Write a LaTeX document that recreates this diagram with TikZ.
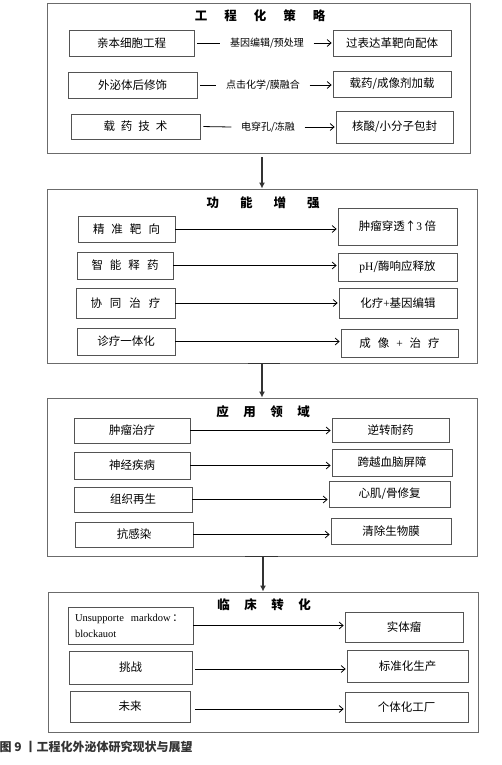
\documentclass[tikz,border=0pt]{standalone}
\usepackage{fontspec}
\setmainfont{Liberation Serif}
\newfontfamily\cjk{Noto Sans CJK SC}
\usetikzlibrary{arrows.meta,calc}
\definecolor{bordc}{gray}{0.33}
\definecolor{secc}{gray}{0.42}
\definecolor{vc}{gray}{0.2}
\newcommand\latn[1]{{\rmfamily #1}}
\newcommand\gp[1]{\hspace{#1pt}}
\newcommand\bx[7][box]{\node[#1, minimum width={#5-#3}, minimum height={#6-#4}] (#2) at ({(#3+#5)/2},{(#4+#6)/2}) {#7};}
\tikzset{
  box/.style={draw=bordc, line width=0.7pt, inner sep=0pt, font=\cjk\fontsize{11.5}{13}\selectfont, text=black},
  secbox/.style={draw=secc, line width=0.9pt, inner sep=0pt},
  ttl/.style={font=\cjk\bfseries\fontsize{12.5}{14}\selectfont, inner sep=0pt},
  lab/.style={font=\cjk\fontsize{10}{12}\selectfont, inner xsep=9.5pt, inner ysep=0pt},
  ln/.style={line width=0.8pt, black, shorten <=3pt},
  arr/.style={line width=0.8pt, black, -{Straight Barb[length=4pt,width=7pt]}, shorten >=1pt},
  varr/.style={line width=2.3pt, vc, -{Latex[length=6pt,width=6pt]}},
  seg/.style={line width=1.3pt, vc},
}
\begin{document}
\begin{tikzpicture}[x=1pt,y=-1pt]
\useasboundingbox (0,0) rectangle (501,765);
% sections
\bx[secbox]{s1}{47}{3}{470}{153}{}
\bx[secbox]{s2}{47}{189}{477}{363}{}
\bx[secbox]{s3}{47}{398}{477}{556}{}
\bx[secbox]{s4}{48}{592}{478}{732}{}
% titles
\node[ttl] (t1) at (260,16) {工\gp{17}程\gp{17}化\gp{17}策\gp{17}略};
\node[ttl] (t2) at (263,203) {功\gp{21}能\gp{21}增\gp{21}强};
\node[ttl] (t3) at (263,412) {应\gp{14.5}用\gp{14.5}领\gp{14.5}域};
\node[ttl] (t4) at (264,605) {临\gp{14.5}床\gp{14.5}转\gp{14.5}化};
% section 1
\bx{L1}{69}{30}{194}{56}{亲本细胞工程}
\bx{R1}{333}{30}{451}{56}{过表达革靶向配体}
\bx{L2}{68}{72}{197}{98}{外泌体后修饰}
\bx{R2}{333}{71}{451}{97}{载药/成像剂加载}
\bx{L3}{71}{114}{200}{139}{载\gp{6}药\gp{6}技\gp{6}术}
\bx{R3}{336}{111}{453}{143}{核酸/小分子包封}
\node[lab] (lb1) at (267,43) {基因编辑/预处理};
\node[lab] (lb2) at (263,85) {点击化学/膜融合};
\node[lab] (lb3) at (268,127) {电穿孔/冻融};
\draw[ln] (L1.east) -- (lb1.west);
\draw[arr] (lb1.east) -- (R1.west);
\draw[ln] (L2.east) -- (lb2.west);
\draw[arr] (lb2.east) -- (lb2.east -| R2.west);
\draw[ln] (L3.east) -- (lb3.west);
\draw[arr] (lb3.east) -- (lb3.east -| R3.west);
% section 2
\bx{A1}{78}{216}{175}{242}{精\gp{7}准\gp{7}靶\gp{7}向}
\bx{B1}{338}{208}{457}{245}{肿瘤穿透↑\latn{3} 倍}
\bx{A2}{77}{252}{173}{279}{智\gp{7}能\gp{7}释\gp{7}药}
\bx{B2}{338}{253}{457}{281}{\latn{pH}/酶响应释放}
\bx{A3}{76}{288}{175}{318}{协\gp{8}同\gp{8}治\gp{8}疗}
\bx{B3}{339}{288}{457}{318}{化疗\latn{+}基因编辑}
\bx{A4}{77}{328}{175}{355}{诊疗一体化}
\bx{B4}{341}{329}{458}{357}{成\gp{7}像\gp{7}\latn{+}\gp{7}治\gp{7}疗}
\foreach \a/\b in {A1/B1,A2/B2,A3/B3,A4/B4}
  \draw[arr] (\a.east) -- (\a.east -| \b.west);
% section 3
\bx{C1}{74}{418}{190}{443}{肿瘤治疗}
\bx{D1}{332}{418}{449}{442}{逆转耐药}
\bx{C2}{74}{452}{190}{479}{神经疾病}
\bx{D2}{332}{449}{452}{476}{跨越血脑屏障}
\bx{C3}{74}{487}{192}{512}{组织再生}
\bx{D3}{329}{481}{450}{507}{心肌/骨修复}
\bx{C4}{75}{522}{193}{547}{抗感染}
\bx{D4}{331}{518}{451}{544}{清除生物膜}
\foreach \a/\b in {C1/D1,C2/D2,C3/D3,C4/D4}
  \draw[arr] (\a.east) -- (\a.east -| \b.west);
% section 4
\bx[box, align=left, text width=111pt, font=\rmfamily\fontsize{10.5}{16}\selectfont]{E1}{68}{607}{193}{644}{\mbox{Unsupporte\ \ markdow\,{\cjk ：}}\\blockauot}
\bx{F1}{345}{612}{463}{642}{实体瘤}
\bx{E2}{69}{651}{192}{684}{挑战}
\bx{F2}{347}{650}{468}{682}{标准化生产}
\bx{E3}{70}{691}{190}{722}{未来}
\bx{F3}{345}{692}{468}{722}{个体化工厂}
\draw[arr] (E1.east) -- (E1.east -| F1.west);
\draw[arr, shorten <=3pt] (E2.east) ++(0,1.5) -- (F2.west |- 0,669);
\draw[arr, shorten <=5pt] (E3.east) ++(0,2.5) -- (F3.west |- 0,709);
% vertical arrows
\draw[varr, shorten <=4pt] (s2.north |- s1.south) -- (s2.north);
\draw[varr] (s3.north |- s2.south) -- (s3.north);
\draw[varr] (s4.north |- s3.south) -- (s4.north);
\draw[seg] ($(s2.south)+(-14,0)$) -- ($(s2.south)+(18,0)$);
\draw[seg] ($(s3.south)+(-17,0)$) -- ($(s3.south)+(16,0)$);
% caption
\node[font=\cjk\bfseries\fontsize{12}{14}\selectfont, text=vc, anchor=west, inner sep=0pt] (cap) at (-0.5,747) {图 9 丨工程化外泌体研究现状与展望};
\end{tikzpicture}
\end{document}
